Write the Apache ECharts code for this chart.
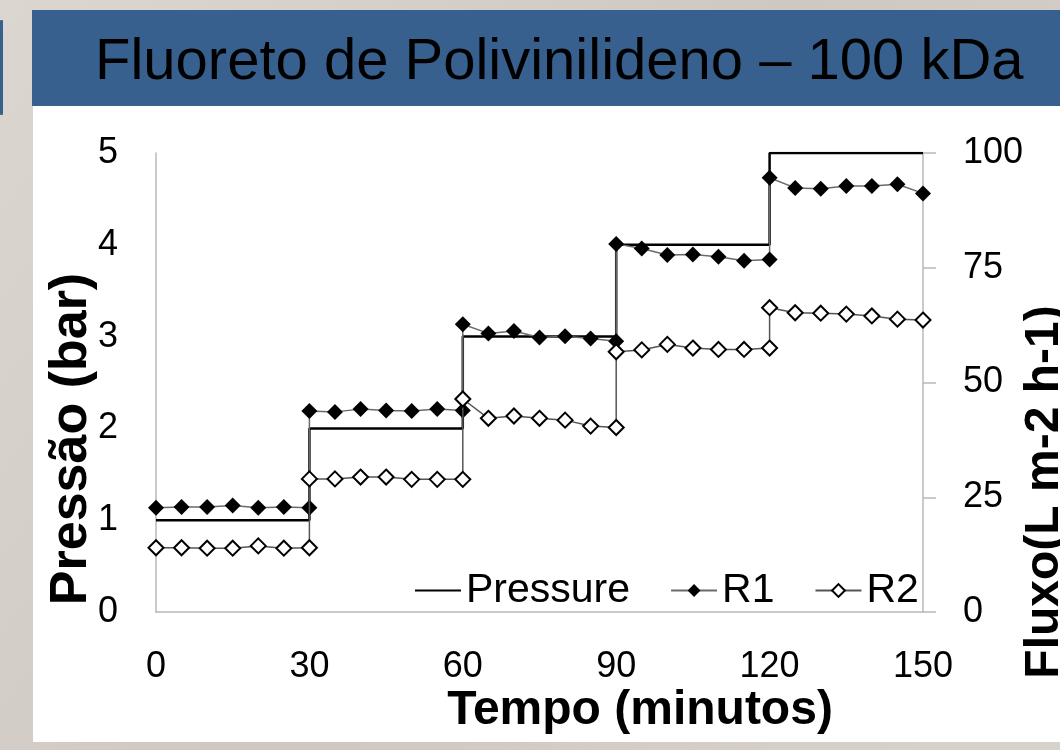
<!DOCTYPE html>
<html>
<head>
<meta charset="utf-8">
<script src="https://cdn.jsdelivr.net/npm/echarts@6/dist/echarts.min.js"></script>
<style>
html,body{margin:0;padding:0;background:#d6d0cb;}
#c{width:1060px;height:750px;}
</style>
</head>
<body>
<div id="c"></div>
<script>
// ---- data ----
const titleText = 'Fluoreto de Polivinilideno – 100 kDa';
const xTitle = 'Tempo (minutos)';
const yLeftTitle = 'Pressão (bar)';
const yRightTitle = 'Fluxo(L m-2 h-1)';
const seriesNames = ['Pressure', 'R1', 'R2'];

const pressureTime = [0, 30, 30, 60, 60, 90, 90, 120, 120, 150];
const pressureBar  = [1, 1, 2, 2, 3, 3, 4, 4, 5, 5];

const minutes = [0,5,10,15,20,25,30, 30,35,40,45,50,55,60, 60,65,70,75,80,85,90, 90,95,100,105,110,115,120, 120,125,130,135,140,145,150];
const r1 = [22.7,22.9,22.9,23.2,22.7,22.9,22.7, 43.8,43.6,44.2,43.9,43.8,44.2,43.9, 62.7,60.7,61.2,59.8,60.1,59.6,59.0, 80.2,79.2,77.8,77.9,77.4,76.5,76.8, 94.6,92.4,92.2,92.8,92.8,93.2,91.2];
const r2 = [14.0,14.0,13.9,13.9,14.4,13.9,14.0, 29.0,29.0,29.4,29.4,28.9,28.9,28.9, 46.4,42.2,42.7,42.2,41.8,40.5,40.2, 56.7,57.1,58.3,57.5,57.2,57.2,57.5, 66.3,65.2,65.1,64.9,64.5,63.8,63.6];

// ---- build ----
const pairs = (xs, ys) => xs.map((x, i) => [x, ys[i]]);
const FONT = "'Liberation Sans', Arial, sans-serif";
const axisGrey = '#b8b8b8';

const chart = echarts.init(document.getElementById('c'), null, {renderer: 'canvas'});
chart.setOption({
  animation: false,
  backgroundColor: {
    type: 'linear', x: 0, y: 0, x2: 1, y2: 1,
    colorStops: [{offset: 0, color: '#dcd6d1'}, {offset: 0.5, color: '#cfc8c2'}, {offset: 1, color: '#d8d2cd'}]
  },
  textStyle: {fontFamily: FONT},
  graphic: [
    {type: 'rect', z: -100, shape: {x: 33, y: 106, width: 1027, height: 636}, style: {fill: '#ffffff'}},
    {type: 'rect', z: -99, shape: {x: 32, y: 10, width: 1028, height: 96}, style: {fill: '#37608f'}},
    {type: 'rect', z: -99, shape: {x: 0, y: 20, width: 3, height: 95, r: 1}, style: {fill: '#37608f'}},
    {type: 'text', z: 100, x: 95, y: 63, style: {text: titleText, fill: '#000', font: "58px " + FONT, align: 'left', verticalAlign: 'middle'}},
    {type: 'text', z: 100, x: 640, y: 711, style: {text: xTitle, fill: '#000', font: "bold 48px " + FONT, align: 'center', verticalAlign: 'middle'}},
    {type: 'text', z: 100, x: 72, y: 439, rotation: Math.PI / 2, style: {text: yLeftTitle, fill: '#000', font: "bold 52px " + FONT, align: 'center', verticalAlign: 'middle'}},
    {type: 'text', z: 100, x: 1045, y: 492, rotation: Math.PI / 2, style: {text: yRightTitle, fill: '#000', font: "bold 48px " + FONT, align: 'center', verticalAlign: 'middle'}}
  ],
  grid: {left: 156, top: 153, right: 137, bottom: 138, containLabel: false},
  legend: {
    data: [
      {name: seriesNames[0], icon: 'path://M0,0 H46 V2 H0 Z'},
      seriesNames[1],
      seriesNames[2]
    ],
    left: 410, top: 565,
    itemWidth: 46, itemHeight: 16, itemGap: 40,
    textStyle: {fontSize: 41, color: '#000', fontFamily: FONT},
    backgroundColor: 'transparent'
  },
  xAxis: {
    type: 'value', min: 0, max: 150, interval: 30,
    axisLine: {show: true, lineStyle: {color: axisGrey, width: 1.5}},
    axisTick: {show: false},
    splitLine: {show: false},
    axisLabel: {fontSize: 36, color: '#000', margin: 37, fontFamily: FONT}
  },
  yAxis: [
    {
      type: 'value', min: 0, max: 5, interval: 1, position: 'left',
      axisLine: {show: true, lineStyle: {color: axisGrey, width: 1.5}},
      axisTick: {show: false},
      splitLine: {show: false},
      axisLabel: {fontSize: 36, color: '#000', margin: 38, fontFamily: FONT, padding: [6, 0, 0, 0]}
    },
    {
      type: 'value', min: 0, max: 100, interval: 25, position: 'right',
      axisLine: {show: true, lineStyle: {color: axisGrey, width: 1.5}},
      axisTick: {show: true, inside: false, length: 13, lineStyle: {color: axisGrey, width: 1.5}},
      splitLine: {show: false},
      axisLabel: {fontSize: 36, color: '#000', margin: 40, fontFamily: FONT, padding: [4, 0, 0, 0]}
    }
  ],
  series: [
    {
      name: seriesNames[0], type: 'line', yAxisIndex: 0,
      data: pairs(pressureTime, pressureBar),
      symbol: 'none',
      lineStyle: {color: '#000', width: 2.5},
      itemStyle: {color: '#000'},
      z: 2
    },
    {
      name: seriesNames[1], type: 'line', yAxisIndex: 1,
      data: pairs(minutes, r1),
      symbol: 'diamond', symbolSize: 16,
      lineStyle: {color: '#6a6a6a', width: 1.5},
      itemStyle: {color: '#000', borderColor: '#000', borderWidth: 0},
      z: 3
    },
    {
      name: seriesNames[2], type: 'line', yAxisIndex: 1,
      data: pairs(minutes, r2),
      symbol: 'diamond', symbolSize: 15,
      lineStyle: {color: '#555', width: 1.5},
      itemStyle: {color: '#fff', borderColor: '#000', borderWidth: 2},
      z: 4
    }
  ]
});
</script>
</body>
</html>
